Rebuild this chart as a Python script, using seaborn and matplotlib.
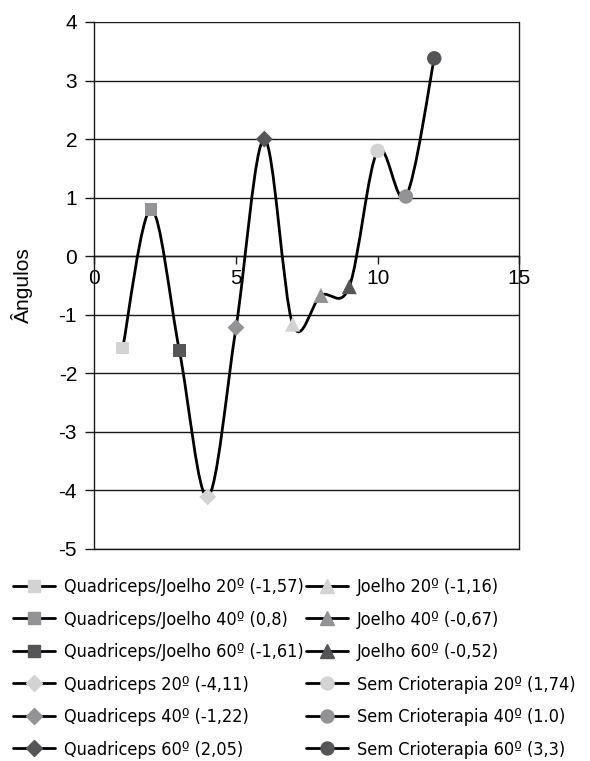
import numpy as np
import pandas as pd
import matplotlib
matplotlib.use("Agg")
import matplotlib.pyplot as plt
from matplotlib import font_manager as fm
from matplotlib.path import Path
from matplotlib.patches import PathPatch
from matplotlib.lines import Line2D
import seaborn as sns

# Data
labels = [
    "Quadriceps/Joelho 20º (-1,57)",
    "Quadriceps/Joelho 40º (0,8)",
    "Quadriceps/Joelho 60º (-1,61)",
    "Quadriceps 20º (-4,11)",
    "Quadriceps 40º (-1,22)",
    "Quadriceps 60º (2,05)",
    "Joelho 20º (-1,16)",
    "Joelho 40º (-0,67)",
    "Joelho 60º (-0,52)",
    "Sem Crioterapia 20º (1,74)",
    "Sem Crioterapia 40º (1.0)",
    "Sem Crioterapia 60º (3,3)",
]
x_vals = [1, 2, 3, 4, 5, 6, 7, 8, 9, 10, 11, 12]
y_vals = [-1.57, 0.8, -1.61, -4.11, -1.22, 2.0, -1.16, -0.67, -0.52, 1.8, 1.02, 3.38]

# style per series: marker shape, gray level
LIGHT, MID, DARK = "#d3d3d3", "#939395", "#555557"
markers = ["s", "s", "s", "D", "D", "D", "^", "^", "^", "o", "o", "o"]
colors = [LIGHT, MID, DARK] * 4
msize = {"s": 9.0, "D": 8.6, "^": 10.8, "o": 10.4}

sns.set_style("white")
plt.rcParams["font.family"] = ["Liberation Sans", "DejaVu Sans"]
plt.rcParams["axes.unicode_minus"] = False
plt.rcParams["text.color"] = "black"
plt.rcParams["axes.labelcolor"] = "black"
plt.rcParams["xtick.color"] = "black"
plt.rcParams["ytick.color"] = "black"

# legend font: a narrow face if one is installed
names = {(f.name, f.stretch) for f in fm.fontManager.ttflist}
if any(n == "Liberation Sans Narrow" for n, _ in names):
    leg_font = fm.FontProperties(family="Liberation Sans Narrow", size=13)
elif ("DejaVu Sans", "condensed") in names:
    leg_font = fm.FontProperties(family="DejaVu Sans", stretch="condensed", size=13)
else:
    leg_font = fm.FontProperties(family="Roboto", size=12)

fig = plt.figure(figsize=(5.9, 7.61), dpi=100)
ax = fig.add_axes([0.16, 0.2786, 0.72, 0.6925])

df = pd.DataFrame({"x": x_vals, "y": y_vals, "label": labels})

# smoothed line (Excel-like Catmull-Rom bezier through the points)
pts = np.column_stack([x_vals, y_vals]).astype(float)
ext = np.vstack([pts[0], pts, pts[-1]])
verts = [tuple(pts[0])]
codes = [Path.MOVETO]
for i in range(len(pts) - 1):
    p0, p1, p2, p3 = ext[i], ext[i + 1], ext[i + 2], ext[i + 3]
    c1 = p1 + (p2 - p0) / 6.0
    c2 = p2 - (p3 - p1) / 6.0
    verts += [tuple(c1), tuple(c2), tuple(p2)]
    codes += [Path.CURVE4] * 3
ax.add_patch(PathPatch(Path(verts, codes), facecolor="none", edgecolor="black",
                       lw=2.0, zorder=3))

# markers
for m in ["s", "D", "^", "o"]:
    sub = df[[mk == m for mk in markers]]
    sns.scatterplot(data=sub, x="x", y="y", hue="label", marker=m,
                    palette={l: c for l, c in zip(labels, colors)},
                    s=msize[m] ** 2, linewidth=0, legend=False, ax=ax, zorder=4)

ax.set_xlim(0, 15)
ax.set_ylim(-5, 4)
ax.set_xticks([0, 5, 10, 15])
ax.set_yticks(range(-5, 5))
ax.set_xlabel("")
ax.set_ylabel("Ângulos", fontsize=15)
ax.yaxis.set_label_coords(-0.145, 0.5)

ax.grid(axis="y", color="#1a1a1a", lw=1.0)
ax.grid(axis="x", visible=False)
ax.axhline(-5, color="#1a1a1a", lw=1.0, clip_on=False, zorder=1)
ax.set_axisbelow(True)
ax.spines["bottom"].set_position(("data", 0))
ax.spines["top"].set_visible(False)
for s in ["left", "bottom", "right"]:
    ax.spines[s].set_color("#1a1a1a")
    ax.spines[s].set_linewidth(1.0)
ax.tick_params(axis="y", direction="out", length=6.5, width=1.0, color="#1a1a1a",
               labelsize=15, pad=6, left=True)
ax.tick_params(axis="x", direction="out", length=6, width=1.0, color="#1a1a1a",
               labelsize=15, pad=3, bottom=True)

# legend with line + marker handles, Excel style
handles = [Line2D([], [], color="black", lw=2.0, marker=m, markersize=msize[m] * 0.9,
                  markerfacecolor=c, markeredgecolor=c)
           for m, c in zip(markers, colors)]
fig.legend(handles, labels, loc="upper left", bbox_to_anchor=(0.022, 0.240),
           ncol=2, frameon=False, borderpad=0, borderaxespad=0,
           handlelength=2.3, handletextpad=0.5, columnspacing=0.15,
           labelspacing=0.8, prop=leg_font)

fig.savefig("out.png", dpi=100)
